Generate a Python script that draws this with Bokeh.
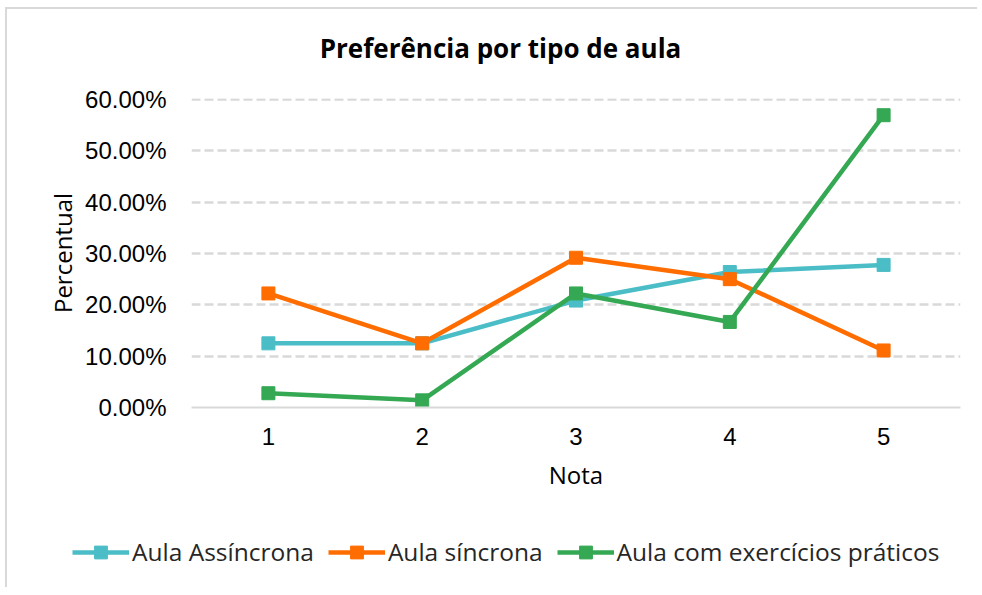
from bokeh.plotting import figure
from bokeh.layouts import column
from bokeh.models import (Range1d, NumeralTickFormatter, FixedTicker, Legend, Label,
                          LegendItem, ColumnDataSource, InlineStyleSheet)
from bokeh.embed import file_html
from bokeh.resources import INLINE

notas = [1, 2, 3, 4, 5]
assincrona = [0.125, 0.125, 0.2083, 0.2639, 0.2778]
sincrona = [0.2222, 0.125, 0.2917, 0.25, 0.1111]
exercicios = [0.0278, 0.0139, 0.2222, 0.1667, 0.5694]
y_ticks = [0.0, 0.1, 0.2, 0.3, 0.4, 0.5, 0.6]
series_names = ["Aula Assíncrona", "Aula síncrona", "Aula com exercícios práticos"]
colors = ["#4BBDC6", "#FF6D01", "#34A853"]
title_text = "Preferência por tipo de aula"
x_title = "Nota"
y_title = "Percentual"


def strip(height, flip):
    yr = Range1d(height, 0) if flip else Range1d(0, height)
    f = figure(width=966, height=height, output_backend="svg", toolbar_location=None,
               title_location=None,
               x_range=Range1d(0, 966), y_range=yr,
               min_border=0, min_border_left=0, min_border_right=0,
               min_border_top=0, min_border_bottom=0)
    f.frame_align = False
    f.axis.visible = False
    f.grid.visible = False
    f.outline_line_color = None
    f.background_fill_color = "white"
    f.border_fill_color = "white"
    return f


# title strip
tt = strip(80, True)
tt.add_layout(Label(x=500, y=47, text=title_text, text_font="Open Sans",
                    text_font_style="bold", text_font_size="26px", text_color="#000000",
                    text_align="center", text_baseline="middle"))

# main chart
p = figure(width=966, height=440, output_backend="svg", toolbar_location=None,
           title_location=None,
           x_range=Range1d(0.5, 5.5), y_range=Range1d(0, 0.6 * 309 / 308),
           frame_width=769, frame_height=309,
           min_border_left=191, min_border_right=6, min_border_top=18, min_border_bottom=113)
p.frame_align = False
p.outline_line_color = None
p.background_fill_color = "white"
p.border_fill_color = "white"

p.xaxis.ticker = FixedTicker(ticks=notas)
p.yaxis.ticker = FixedTicker(ticks=y_ticks)
p.yaxis.formatter = NumeralTickFormatter(format="0.00%")
for ax in (p.xaxis[0], p.yaxis[0]):
    ax.major_tick_line_color = None
    ax.minor_tick_line_color = None
    ax.major_label_text_font = "Liberation Sans"
    ax.major_label_text_font_size = "24px"
    ax.major_label_text_color = "#000000"
    ax.axis_label_text_font = "Open Sans"
    ax.axis_label_text_font_size = "24px"
    ax.axis_label_text_font_style = "normal"
    ax.axis_label_text_color = "#000000"
p.yaxis.axis_line_color = None
p.yaxis.major_label_standoff = 19
p.yaxis.axis_label = y_title
p.yaxis.axis_label_standoff = 3
p.xaxis.axis_line_color = "#D9D9D9"
p.xaxis.axis_line_width = 2
p.xaxis.major_label_standoff = 14
p.xaxis.axis_label = x_title
p.xaxis.axis_label_standoff = 10

p.xgrid.grid_line_color = None
p.ygrid.grid_line_color = "#D9D9D9"
p.ygrid.grid_line_width = 2.5
p.ygrid.grid_line_dash = "9 4"

for name, vals, col in zip(series_names, [assincrona, sincrona, exercicios], colors):
    src = ColumnDataSource(dict(x=notas, y=vals))
    p.line("x", "y", source=src, line_color=col, line_width=4.5)
    p.scatter("x", "y", source=src, marker="square", size=13,
              fill_color=col, line_color=col)

# legend strip below the chart
lg = strip(59, False)
items = []
for name, col in zip(series_names, colors):
    src = ColumnDataSource(dict(x=[-100.0], y=[-100.0]))
    lr = lg.line("x", "y", source=src, line_color=col, line_width=4.5)
    sr = lg.scatter("x", "y", source=src, marker="square", size=13,
                    fill_color=col, line_color=col)
    items.append(LegendItem(label=name, renderers=[lr, sr]))
legend = Legend(items=items, orientation="horizontal", location=(72, 11),
                glyph_width=57, glyph_height=32, label_standoff=3, spacing=14,
                padding=0, margin=0, border_line_color=None, background_fill_alpha=0,
                label_text_font="Open Sans", label_text_font_size="24.5px",
                label_text_color="#262626")
lg.add_layout(legend, "center")

layout = column(tt, p, lg, spacing=0)
layout.stylesheets = [InlineStyleSheet(css="""
:host { position: relative; }
:host::before { content: ''; position: absolute; left: 5px; top: 7px; width: calc(100% + 6px); height: 2px;
  background: #D9D9D9; pointer-events: none; z-index: 10; }
:host::after { content: ''; position: absolute; left: 5px; top: 7px; width: 2px; height: 580px;
  background: #D9D9D9; pointer-events: none; z-index: 10; }
""")]

open("out.html", "w").write(file_html(layout, INLINE))
